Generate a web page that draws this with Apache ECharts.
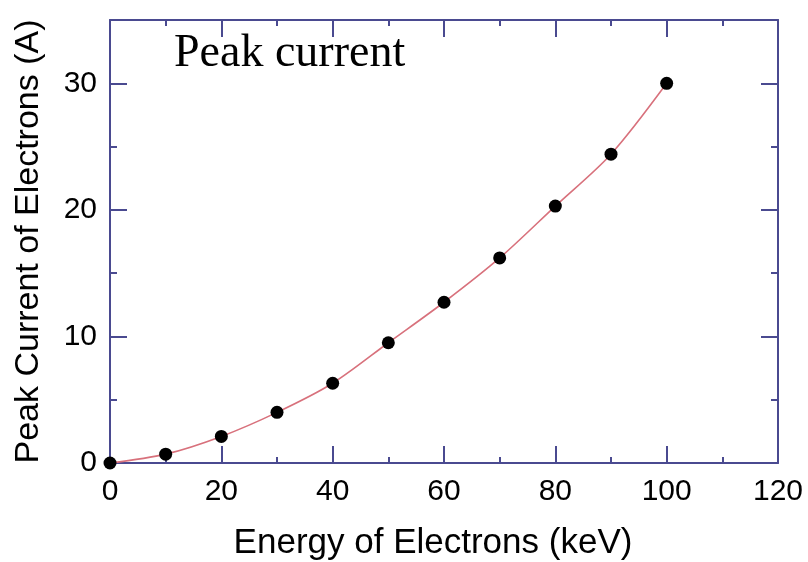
<!DOCTYPE html>
<html>
<head>
<meta charset="utf-8">
<script src="https://cdn.jsdelivr.net/npm/echarts@6/dist/echarts.min.js"></script>
<style>
  html, body { margin: 0; padding: 0; background: #fff; }
  #chart { width: 808px; height: 562px; }
</style>
</head>
<body>
<div id="chart"></div>
<script>
// energy (keV) and peak current (A)
const energy = [0, 10, 20, 30, 40, 50, 60, 70, 80, 90, 100]
const current = [0, 0.7, 2.1, 4.0, 6.3, 9.5, 12.7, 16.2, 20.3, 24.4, 30.0]

const axisColor = '#4a4a90'
const labelFont = { color: '#000', fontFamily: 'Liberation Sans', fontSize: 30 }

const chart = echarts.init(document.getElementById('chart'))

// common x axis settings (bottom and top share ticks)
function xAxis(pos, showLabel) {
  return {
    type: 'value', position: pos, min: 0, max: 120, interval: 20,
    axisLine: { show: true, onZero: false, lineStyle: { color: axisColor, width: 2 } },
    axisTick: { show: true, inside: true, length: 17, lineStyle: { color: axisColor, width: 2 } },
    minorTick: { show: true, splitNumber: 2, length: 6, lineStyle: { color: axisColor, width: 2 } },
    axisLabel: Object.assign({ show: showLabel, margin: 14 }, labelFont),
    splitLine: { show: false }
  }
}

// y axes: major ticks every 10, minor every 5 drawn by an overlapping axis
function yAxis(pos, step, len, showLine, showLabel) {
  return {
    type: 'value', position: pos, min: 0, max: 35, interval: step,
    axisLine: { show: showLine, onZero: false, lineStyle: { color: axisColor, width: 2 } },
    axisTick: { show: true, inside: true, length: len, lineStyle: { color: axisColor, width: 2 } },
    axisLabel: Object.assign({ show: showLabel, margin: 13, showMaxLabel: false }, labelFont),
    splitLine: { show: false }
  }
}

const xs = [
  Object.assign(xAxis('bottom', true), {
    name: 'Energy of Electrons (keV)',
    nameLocation: 'middle',
    nameGap: 63,
    nameTextStyle: { color: '#000', fontFamily: 'Liberation Sans', fontSize: 35, padding: [0, 22, 0, 0] }
  }),
  xAxis('top', false)
]

const ys = [
  Object.assign(yAxis('left', 10, 17, true, true), {
    name: 'Peak Current of Electrons (A)',
    nameLocation: 'middle',
    nameGap: 64,
    nameTextStyle: { color: '#000', fontFamily: 'Liberation Sans', fontSize: 34 }
  }),
  yAxis('left', 5, 7, false, false),
  yAxis('right', 10, 17, true, false),
  yAxis('right', 5, 7, false, false)
]

const option = {
  backgroundColor: '#fff',
  animation: false,
  title: {
    text: 'Peak current',
    left: 174,
    top: 31,
    padding: 0,
    textStyle: { fontFamily: 'Liberation Serif', fontWeight: 'normal', fontSize: 46, color: '#000' }
  },
  grid: { left: 110, right: 30, top: 20, bottom: 99, outerBoundsMode: 'none' },
  xAxis: xs,
  yAxis: ys,
  series: [
    {
      type: 'line',
      smooth: 0.3,
      data: energy.map((e, i) => [e, current[i]]),
      symbol: 'none',
      lineStyle: { color: '#d8717c', width: 1.6 },
      z: 2
    },
    {
      type: 'scatter',
      data: energy.map((e, i) => [e, current[i]]),
      symbolSize: 13,
      itemStyle: { color: '#000', opacity: 1 },
      z: 3
    }
  ]
}

chart.setOption(option)

window.addEventListener('resize', () => {
  chart.resize()
})
</script>
</body>
</html>
